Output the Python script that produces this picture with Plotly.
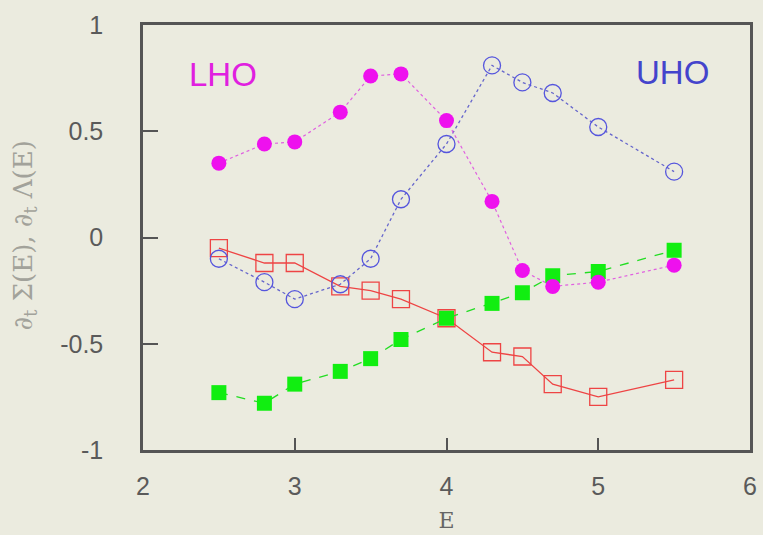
import plotly.graph_objects as go

E = [2.5, 2.8, 3.0, 3.3, 3.5, 3.7, 4.0, 4.3, 4.5, 4.7, 5.0, 5.5]
lho = [0.35, 0.44, 0.45, 0.59, 0.76, 0.77, 0.55, 0.17, -0.155, -0.23, -0.21, -0.13]
uho = [-0.10, -0.21, -0.29, -0.22, -0.10, 0.18, 0.44, 0.81, 0.73, 0.68, 0.52, 0.31]
red_sq = [-0.05, -0.12, -0.12, -0.23, -0.25, -0.29, -0.38, -0.54, -0.56, -0.69, -0.75, -0.67]
green_sq = [-0.73, -0.78, -0.69, -0.63, -0.57, -0.48, -0.38, -0.31, -0.26, -0.18, -0.16, -0.06]
x_ticks = [2, 3, 4, 5, 6]
y_ticks = [-1, -0.5, 0, 0.5, 1]
y_ticklabels = ["-1", "-0.5", "0", "0.5", "1"]

bg = "#ebebdf"
fig = go.Figure()
fig.add_trace(go.Scatter(x=E, y=red_sq, mode="lines+markers",
    line=dict(color="#ee4444", width=1.3),
    marker=dict(symbol="square-open", size=17, color="#ee4444", line=dict(width=1.3))))
fig.add_trace(go.Scatter(x=E, y=green_sq, mode="lines+markers",
    line=dict(color="#22dd22", width=1.3, dash="dash"),
    marker=dict(symbol="square", size=15, color="#11ee11")))
fig.add_trace(go.Scatter(x=E, y=uho, mode="lines+markers",
    line=dict(color="#6666cc", width=1.3, dash="dot"),
    marker=dict(symbol="circle-open", size=17, color="#5555dd", line=dict(width=1.3))))
fig.add_trace(go.Scatter(x=E, y=lho, mode="lines+markers",
    line=dict(color="#e060e0", width=1.2, dash="dot"),
    marker=dict(symbol="circle", size=15, color="#ee11ee")))

fig.add_annotation(x=2.53, y=0.765, text="LHO", showarrow=False,
    font=dict(family="Liberation Sans", size=33, color="#e020e0"))
fig.add_annotation(x=5.49, y=0.775, text="UHO", showarrow=False,
    font=dict(family="Liberation Sans", size=33, color="#4444cc"))
fig.add_annotation(xref="paper", yref="paper", x=-0.196, xanchor="center",
    y=0.505, yanchor="middle",
    text="∂<sub>t</sub> Σ(E), ∂<sub>t</sub> Λ(E)", textangle=-90, showarrow=False,
    font=dict(family="DejaVu Serif", size=26, color="#a2a29a"))

axis_common = dict(showline=True, linecolor="#555555", linewidth=2.5, mirror=True,
                   showgrid=False, zeroline=False, ticks="inside", tickcolor="#555555",
                   tickwidth=1.5, automargin=False,
                   tickfont=dict(family="Liberation Sans", size=25, color="#5a5a5a"))
fig.update_xaxes(range=[2, 6], tickvals=x_ticks, ticklen=12, ticklabelstandoff=12,
    title=dict(text="E", font=dict(family="DejaVu Serif", size=22, color="#666666"), standoff=14),
    **axis_common)
fig.update_yaxes(range=[-1, 1], tickvals=y_ticks, ticktext=y_ticklabels, ticklen=15,
    ticklabelstandoff=32, **axis_common)

fig.update_layout(width=763, height=535, showlegend=False,
    paper_bgcolor=bg, plot_bgcolor=bg,
    margin=dict(l=143, r=13, t=25, b=85))
fig.write_html("out.html", config={"displayModeBar": False},
    post_script="document.body.style.margin='0';document.body.style.background='%s';" % bg)
